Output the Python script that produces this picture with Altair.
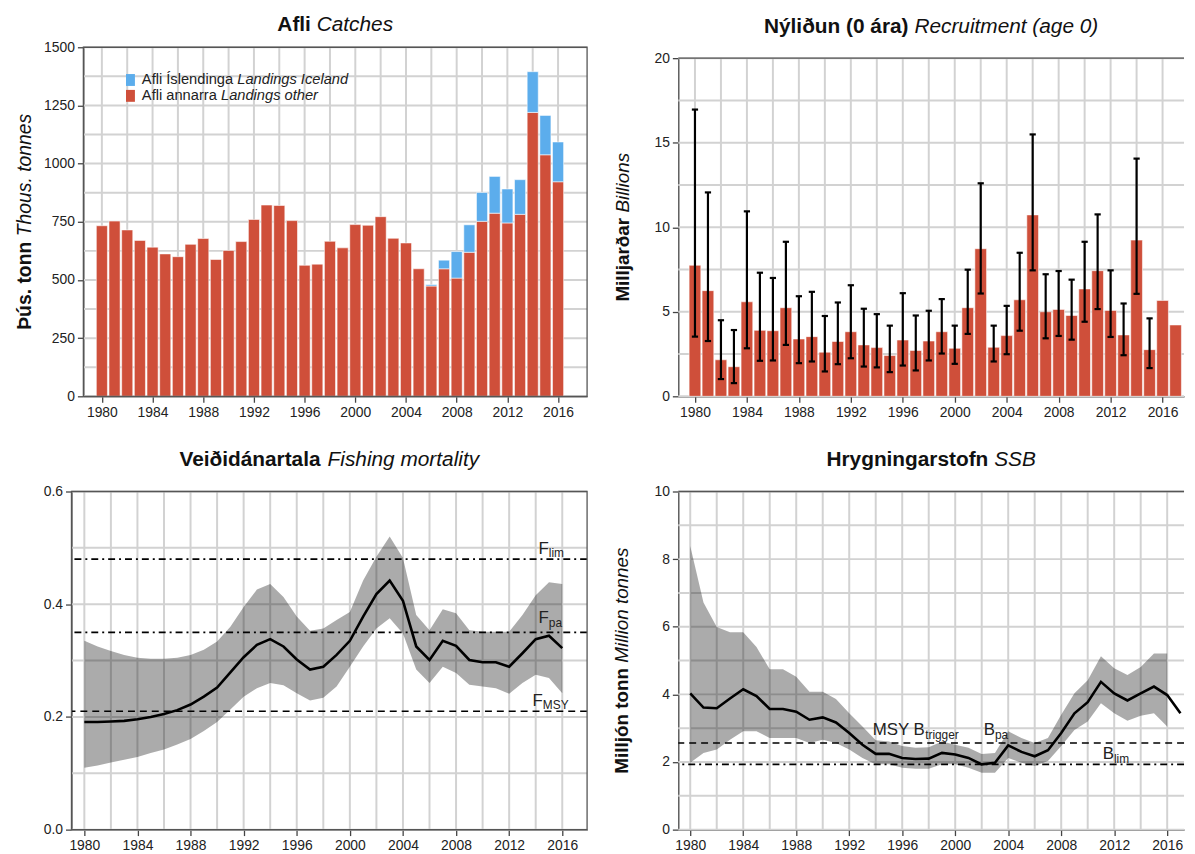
import altair as alt
import pandas as pd

FONT = "Liberation Sans"

# ---------------- data ----------------
years_catch = list(range(1980, 2017))
catch_other = [733, 753, 715, 670, 641, 612, 600, 653, 678, 588,
               627, 665, 760, 822, 820, 755, 563, 568, 666, 638,
               738, 735, 772, 679, 659, 548, 474, 548, 508, 619,
               752, 787, 745, 782, 1220, 1038, 922]
catch_iceland = [0] * 26 + [6, 37, 114, 118, 124, 158, 146, 149, 175, 169, 171]

years_rec = list(range(1980, 2018))
recruit = [7.75, 6.25, 2.16, 1.75, 5.59, 3.90, 3.88, 5.24, 3.39, 3.53,
           2.61, 3.24, 3.82, 3.04, 2.88, 2.41, 3.33, 2.71, 3.27, 3.82,
           2.84, 5.24, 8.73, 2.90, 3.59, 5.71, 10.73, 5.00, 5.14, 4.78,
           6.35, 7.43, 5.08, 3.63, 9.24, 2.76, 5.67, 4.22]
recruit_hi = [16.96, 12.06, 4.50, 3.92, 10.94, 7.31, 7.00, 9.14, 5.92, 6.18,
              4.75, 5.55, 6.57, 5.18, 4.86, 4.18, 6.10, 4.78, 5.06, 5.75,
              4.18, 7.49, 12.60, 4.18, 5.35, 8.49, 15.49, 7.22, 7.41, 6.90,
              9.14, 10.76, 7.45, 5.49, 14.06, 4.61]
recruit_lo = [3.53, 3.27, 1.02, 0.78, 2.84, 2.10, 2.12, 3.04, 1.96, 2.06,
              1.47, 1.90, 2.25, 1.76, 1.71, 1.43, 1.82, 1.53, 2.12, 2.53,
              1.92, 3.69, 6.08, 2.06, 2.49, 3.88, 7.45, 3.43, 3.57, 3.35,
              4.41, 5.16, 3.51, 2.43, 6.06, 1.67]

years_f = list(range(1980, 2017))
fbar = [0.191, 0.191, 0.192, 0.193, 0.196, 0.200, 0.205, 0.212, 0.222, 0.236,
        0.252, 0.279, 0.306, 0.328, 0.338, 0.325, 0.302, 0.284, 0.289, 0.310,
        0.335, 0.378, 0.418, 0.442, 0.406, 0.325, 0.301, 0.335, 0.326, 0.301,
        0.297, 0.297, 0.289, 0.313, 0.338, 0.344, 0.322]
fbar_hi = [0.335, 0.325, 0.317, 0.310, 0.305, 0.303, 0.303, 0.305, 0.310, 0.319,
           0.334, 0.360, 0.395, 0.426, 0.436, 0.413, 0.378, 0.353, 0.357, 0.372,
           0.386, 0.442, 0.484, 0.520, 0.482, 0.381, 0.354, 0.391, 0.384, 0.354,
           0.351, 0.351, 0.351, 0.381, 0.416, 0.439, 0.436]
fbar_lo = [0.110, 0.114, 0.119, 0.124, 0.129, 0.136, 0.142, 0.151, 0.161, 0.175,
           0.191, 0.213, 0.236, 0.251, 0.260, 0.256, 0.242, 0.229, 0.234, 0.254,
           0.289, 0.325, 0.357, 0.375, 0.348, 0.284, 0.260, 0.289, 0.278, 0.257,
           0.254, 0.251, 0.241, 0.260, 0.275, 0.269, 0.242]

years_ssb = list(range(1980, 2018))
ssb = [4.03, 3.61, 3.59, 3.88, 4.15, 3.95, 3.57, 3.57, 3.49, 3.25,
       3.32, 3.17, 2.86, 2.51, 2.24, 2.24, 2.12, 2.09, 2.10, 2.27,
       2.22, 2.12, 1.93, 1.98, 2.49, 2.30, 2.17, 2.35, 2.86, 3.44,
       3.77, 4.37, 4.03, 3.82, 4.03, 4.23, 3.98, 3.44]
ssb_hi = [8.39, 6.72, 5.99, 5.84, 5.84, 5.40, 4.74, 4.74, 4.52, 4.08,
          4.08, 3.86, 3.44, 3.05, 2.64, 2.61, 2.47, 2.42, 2.44, 2.61,
          2.51, 2.42, 2.24, 2.27, 2.91, 2.71, 2.56, 2.71, 3.40, 4.03,
          4.42, 5.13, 4.77, 4.57, 4.81, 5.21, 5.21]
ssb_lo = [1.98, 2.27, 2.37, 2.66, 2.91, 2.91, 2.71, 2.71, 2.71, 2.56,
          2.66, 2.56, 2.37, 2.12, 1.93, 1.93, 1.83, 1.80, 1.80, 1.93,
          1.93, 1.83, 1.68, 1.68, 2.12, 1.98, 1.88, 2.03, 2.47, 2.95,
          3.20, 3.74, 3.44, 3.22, 3.37, 3.44, 3.05]

F_LIM, F_PA, F_MSY = 0.48, 0.35, 0.21
B_TRIGGER, B_LIM = 2.56, 1.93

tick_years = list(range(1980, 2017, 4))
grid_years = list(range(1980, 2017, 2))
catch_ticks = list(range(0, 1501, 250))
catch_grid = list(range(0, 1501, 125))
rec_ticks = [0, 5, 10, 15, 20]
rec_grid = [0, 2.5, 5, 7.5, 10, 12.5, 15, 17.5, 20]
f_ticks = [0.0, 0.2, 0.4, 0.6]
f_grid = [0.0, 0.1, 0.2, 0.3, 0.4, 0.5, 0.6]
ssb_ticks = [0, 2, 4, 6, 8, 10]
ssb_grid = list(range(0, 11))

# ---------------- styling helpers ----------------
RED = "#CF4F3A"
BLUE = "#5CADEC"
GRID = "#D2D2D2"
FRAME = "#555555"
TXT = "#111111"
ONE = pd.DataFrame({"k": [0]})

REG = {' ': 278, '(': 333, ')': 333, '.': 278,
       'A': 667, 'B': 667, 'C': 722, 'D': 722, 'E': 667, 'F': 611, 'G': 778, 'H': 722, 'I': 278,
       'J': 500, 'K': 667, 'L': 556, 'M': 833, 'N': 722, 'O': 778, 'P': 667, 'Q': 778, 'R': 722,
       'S': 667, 'T': 611, 'U': 722, 'V': 667, 'W': 944, 'X': 667, 'Y': 667, 'Z': 611,
       'a': 556, 'b': 556, 'c': 500, 'd': 556, 'e': 556, 'f': 278, 'g': 556, 'h': 556, 'i': 222,
       'j': 222, 'k': 500, 'l': 222, 'm': 833, 'n': 556, 'o': 556, 'p': 556, 'q': 556, 'r': 333,
       's': 500, 't': 278, 'u': 556, 'v': 500, 'w': 722, 'x': 500, 'y': 500, 'z': 500,
       'Þ': 667, 'ð': 556, 'á': 556, 'í': 278, 'Í': 278, 'ú': 556, 'ó': 556, 'ý': 500}
BLD = {' ': 278, '(': 333, ')': 333, '.': 278,
       'A': 722, 'B': 722, 'C': 722, 'D': 722, 'E': 667, 'F': 611, 'G': 778, 'H': 722, 'I': 278,
       'J': 556, 'K': 722, 'L': 611, 'M': 833, 'N': 722, 'O': 778, 'P': 667, 'Q': 778, 'R': 722,
       'S': 667, 'T': 611, 'U': 722, 'V': 667, 'W': 944, 'X': 667, 'Y': 667, 'Z': 611,
       'a': 556, 'b': 611, 'c': 556, 'd': 611, 'e': 556, 'f': 333, 'g': 611, 'h': 611, 'i': 278,
       'j': 278, 'k': 556, 'l': 278, 'm': 889, 'n': 611, 'o': 611, 'p': 611, 'q': 611, 'r': 389,
       's': 556, 't': 333, 'u': 611, 'v': 556, 'w': 778, 'x': 556, 'y': 556, 'z': 500,
       'Þ': 667, 'ð': 611, 'á': 556, 'í': 278, 'Í': 278, 'ú': 611, 'ó': 611, 'ý': 556}


def tw(s, size, bold=False):
    tab = BLD if bold else REG
    return sum(tab.get(c, 556) for c in s) * size / 1000.0


def text_layer(s, x, y, size, weight="normal", style="normal", align="left",
               baseline="alphabetic", angle=0, color=TXT):
    props = dict(text=s, font=FONT, fontSize=size, fontWeight=weight, fontStyle=style,
                 align=align, baseline=baseline, color=color)
    if angle:
        props["angle"] = angle
    return alt.Chart(ONE).mark_text(**props).encode(x=alt.value(x), y=alt.value(y))


def mixed(parts, cx, cy, size, vertical=False, color=TXT, baseline="alphabetic"):
    """parts: list of (text, bold, italic); centred at cx (or cy if vertical)."""
    widths = [tw(p[0], size, p[1]) for p in parts]
    total = sum(widths)
    layers = []
    off = 0.0
    for (s, b, it), w in zip(parts, widths):
        weight = "bold" if b else "normal"
        style = "italic" if it else "normal"
        if vertical:
            layers.append(text_layer(s.strip(), cx, cy + total / 2 - off, size, weight, style,
                                     "left", "middle", 270, color))
        else:
            layers.append(text_layer(s.strip(), cx - total / 2 + off, cy, size, weight, style,
                                     "left", baseline, 0, color))
        off += w
    return layers


def sub_label(main, sub, x, y, size=17, subsize=12, color="#222222"):
    return [text_layer(main, x, y, size, color=color),
            text_layer(sub, x + tw(main, size), y + 3.5, subsize, color=color)]


def frame(w, h, right=True):
    if right:
        return [alt.Chart(ONE).mark_rect(filled=False, stroke=FRAME, strokeWidth=1.3).encode(
            x=alt.value(0), x2=alt.value(w), y=alt.value(0), y2=alt.value(h))]
    return [alt.Chart(ONE).mark_rule(color=FRAME, strokeWidth=1.3).encode(
        x=alt.value(0), x2=alt.value(w), y=alt.value(0))]


def grids(xs, xa, ys, ya, gx, gy):
    hg = alt.Chart(pd.DataFrame({"y": gy})).mark_rule(color=GRID, strokeWidth=2).encode(
        y=alt.Y("y:Q", scale=ys, axis=ya))
    vg = alt.Chart(pd.DataFrame({"x": gx})).mark_rule(color=GRID, strokeWidth=2).encode(
        x=alt.X("x:Q", scale=xs, axis=xa))
    return [hg, vg]


def spacer(w, h):
    return alt.Chart(ONE).mark_point(opacity=0).encode(
        x=alt.value(0), y=alt.value(0)).properties(width=w, height=h)


def xaxis():
    return alt.Axis(values=tick_years, format="d", title=None, labelFlush=False)


# ---------------- panel 1: catches ----------------
W1, H1 = 508, 352
xs1 = alt.Scale(domain=[1978.93, 2017.9], nice=False, zero=False)
ys1 = alt.Scale(domain=[0, 1500], nice=False)
xa1 = xaxis()
ya1 = alt.Axis(values=catch_ticks, title=None, format="d")

catch_df = pd.DataFrame({"x": years_catch, "y": catch_other,
                         "ice": catch_iceland})
catch_df["total"] = catch_df["y"] + catch_df["ice"]
red_bars = alt.Chart(catch_df).mark_bar(width=11.2, color=RED, stroke="white",
                                        strokeWidth=0.8, strokeOpacity=0.7).encode(
    x=alt.X("x:Q", scale=xs1, axis=xa1), y=alt.Y("y:Q", scale=ys1, axis=ya1))
blue_bars = alt.Chart(catch_df[catch_df["ice"] > 0]).mark_bar(
    width=11.2, color=BLUE, stroke="white", strokeWidth=0.8, strokeOpacity=0.7).encode(
    x=alt.X("x:Q", scale=xs1, axis=xa1), y=alt.Y("total:Q", scale=ys1, axis=ya1),
    y2="y:Q")

legend = [
    alt.Chart(ONE).mark_rect(color=BLUE).encode(x=alt.value(43), x2=alt.value(52),
                                                y=alt.value(27), y2=alt.value(39)),
    alt.Chart(ONE).mark_rect(color=RED).encode(x=alt.value(43), x2=alt.value(52),
                                               y=alt.value(43), y2=alt.value(55)),
]
LFS = 14.8
legend += [text_layer("Afli Íslendinga", 59, 33, LFS, baseline="middle", color="#222"),
           text_layer("Landings Iceland", 59 + tw("Afli Íslendinga ", LFS), 33, LFS,
                      style="italic", baseline="middle", color="#222"),
           text_layer("Afli annarra", 59, 49, LFS, baseline="middle", color="#222"),
           text_layer("Landings other", 59 + tw("Afli annarra ", LFS), 49, LFS,
                      style="italic", baseline="middle", color="#222")]

p1_layers = (grids(xs1, xa1, ys1, ya1, grid_years, catch_grid) + [red_bars, blue_bars] +
             legend + frame(W1, H1) +
             mixed([("Afli ", True, False), ("Catches", False, True)], W1 / 2, -16, 21) +
             mixed([("Þús. tonn ", True, False), ("Thous. tonnes", False, True)],
                   -59, H1 / 2, 19.5, vertical=True))
p1 = alt.layer(*p1_layers).properties(width=W1, height=H1)

# ---------------- panel 2: recruitment ----------------
W2, H2 = 510, 341
xs2 = alt.Scale(domain=[1979.1, 2017.27], nice=False, zero=False)
ys2 = alt.Scale(domain=[0, 20], nice=False)
xa2 = xaxis()
ya2 = alt.Axis(values=rec_ticks, title=None, format="d")

rec_df = pd.DataFrame({"x": years_rec, "y": recruit})
err_df = pd.DataFrame({"x": years_rec[:len(recruit_hi)], "y": recruit_hi, "lo": recruit_lo})
rec_bars = alt.Chart(rec_df).mark_bar(width=11.8, color=RED, stroke="white", strokeWidth=0.8,
                                      strokeOpacity=0.7, clip=True).encode(
    x=alt.X("x:Q", scale=xs2, axis=xa2), y=alt.Y("y:Q", scale=ys2, axis=ya2))
err_rule = alt.Chart(err_df).mark_rule(color="black", strokeWidth=2.2).encode(
    x=alt.X("x:Q", scale=xs2, axis=xa2), y=alt.Y("y:Q", scale=ys2, axis=ya2), y2="lo:Q")
cap_hi = alt.Chart(err_df).transform_calculate(a="datum.x - 0.24", b="datum.x + 0.24").mark_rule(
    color="black", strokeWidth=2.2).encode(
    x=alt.X("a:Q", scale=xs2, axis=xa2), x2="b:Q", y=alt.Y("y:Q", scale=ys2, axis=ya2))
cap_lo = alt.Chart(err_df).transform_calculate(a="datum.x - 0.24", b="datum.x + 0.24").mark_rule(
    color="black", strokeWidth=2.2).encode(
    x=alt.X("a:Q", scale=xs2, axis=xa2), x2="b:Q", y=alt.Y("lo:Q", scale=ys2, axis=ya2))

p2_layers = (grids(xs2, xa2, ys2, ya2, grid_years, rec_grid) +
             [rec_bars, err_rule, cap_hi, cap_lo] + frame(W2, H2, right=False) +
             mixed([("Nýliðun (0 ára) ", True, False), ("Recruitment (age 0)", False, True)],
                   W2 / 2, -25, 21) +
             mixed([("Milljarðar ", True, False), ("Billions", False, True)],
                   -56, H2 / 2, 19, vertical=True))
p2 = alt.layer(*p2_layers).properties(width=W2, height=H2)

# ---------------- panel 3: fishing mortality ----------------
W3, H3 = 520, 341
xs3 = alt.Scale(domain=[1979.03, 2017.87], nice=False, zero=False)
ys3 = alt.Scale(domain=[0, 0.6], nice=False)
xa3 = xaxis()
ya3 = alt.Axis(values=f_ticks, title=None, format=".1f")

f_df = pd.DataFrame({"x": years_f, "y": fbar, "hi": fbar_hi, "lo": fbar_lo})
f_band = alt.Chart(f_df).mark_area(color="black", opacity=0.33).encode(
    x=alt.X("x:Q", scale=xs3, axis=xa3), y=alt.Y("hi:Q", scale=ys3, axis=ya3), y2="lo:Q")
f_line = alt.Chart(f_df).mark_line(color="black", strokeWidth=2.6).encode(
    x=alt.X("x:Q", scale=xs3, axis=xa3), y=alt.Y("y:Q", scale=ys3, axis=ya3))
DASH = [7, 5]
DASHDOT = [7, 4, 2, 4]
f_refs = [
    alt.Chart(pd.DataFrame({"y": [F_LIM]})).mark_rule(color="black", strokeWidth=1.6,
                                                      strokeDash=DASHDOT).encode(
        y=alt.Y("y:Q", scale=ys3, axis=ya3)),
    alt.Chart(pd.DataFrame({"y": [F_PA]})).mark_rule(color="black", strokeWidth=1.6,
                                                     strokeDash=DASHDOT).encode(
        y=alt.Y("y:Q", scale=ys3, axis=ya3)),
    alt.Chart(pd.DataFrame({"y": [F_MSY]})).mark_rule(color="black", strokeWidth=1.6,
                                                      strokeDash=DASH).encode(
        y=alt.Y("y:Q", scale=ys3, axis=ya3)),
]
f_labels = (sub_label("F", "lim", 471, 63) + sub_label("F", "pa", 471, 133) +
            sub_label("F", "MSY", 465, 216))
p3_layers = (grids(xs3, xa3, ys3, ya3, grid_years, f_grid) + [f_band, f_line] + f_refs +
             f_labels + frame(W3, H3) +
             mixed([("Veiðidánartala ", True, False), ("Fishing mortality", False, True)],
                   W3 / 2, -26, 21))
p3 = alt.layer(*p3_layers).properties(width=W3, height=H3)

# ---------------- panel 4: SSB ----------------
W4, H4 = 510, 341
xs4 = alt.Scale(domain=[1979.1, 2017.27], nice=False, zero=False)
ys4 = alt.Scale(domain=[0, 10], nice=False)
xa4 = xaxis()
ya4 = alt.Axis(values=ssb_ticks, title=None, format="d")

s_df = pd.DataFrame({"x": years_ssb, "y": ssb})
sb_df = pd.DataFrame({"x": years_ssb[:len(ssb_hi)], "hi": ssb_hi, "lo": ssb_lo})
s_band = alt.Chart(sb_df).mark_area(color="black", opacity=0.33).encode(
    x=alt.X("x:Q", scale=xs4, axis=xa4), y=alt.Y("hi:Q", scale=ys4, axis=ya4), y2="lo:Q")
s_line = alt.Chart(s_df).mark_line(color="black", strokeWidth=2.6).encode(
    x=alt.X("x:Q", scale=xs4, axis=xa4), y=alt.Y("y:Q", scale=ys4, axis=ya4))
s_refs = [
    alt.Chart(pd.DataFrame({"y": [B_TRIGGER]})).mark_rule(color="black", strokeWidth=1.6,
                                                          strokeDash=DASH).encode(
        y=alt.Y("y:Q", scale=ys4, axis=ya4)),
    alt.Chart(pd.DataFrame({"y": [B_LIM]})).mark_rule(color="black", strokeWidth=1.6,
                                                      strokeDash=DASHDOT).encode(
        y=alt.Y("y:Q", scale=ys4, axis=ya4)),
]
s_labels = (sub_label("MSY B", "trigger", 196, 246) + sub_label("B", "pa", 308, 246) +
            sub_label("B", "lim", 428, 270))
p4_layers = (grids(xs4, xa4, ys4, ya4, grid_years, ssb_grid) + [s_band, s_line] + s_refs +
             s_labels + frame(W4, H4, right=False) +
             mixed([("Hrygningarstofn ", True, False), ("SSB", False, True)], W4 / 2, -26, 21) +
             mixed([("Milljón tonn ", True, False), ("Million tonnes", False, True)],
                   -57, H4 / 2, 19, vertical=True))
p4 = alt.layer(*p4_layers).properties(width=W4, height=H4)

# ---------------- layout ----------------
row1 = alt.hconcat(spacer(12, H1), p1, spacer(92, H1),
                   alt.vconcat(spacer(W2, 11), p2, spacing=0, bounds="flush"),
                   spacing=0, bounds="flush")
row2 = alt.hconcat(p3, p4, spacing=92, bounds="flush")

chart = alt.vconcat(row1, row2, spacing=28).properties(
    padding={"left": 6, "top": 2, "right": 0, "bottom": 0}
).configure_view(stroke="transparent").configure_axis(
    labelFont=FONT, labelFontSize=14, labelColor="#222222", tickColor="#444444",
    tickWidth=1.3, tickSize=6, domainColor="#444444", domainWidth=1.3, grid=False,
    labelPadding=3
)

chart.save("out.html", embed_options={"renderer": "svg", "actions": False})
